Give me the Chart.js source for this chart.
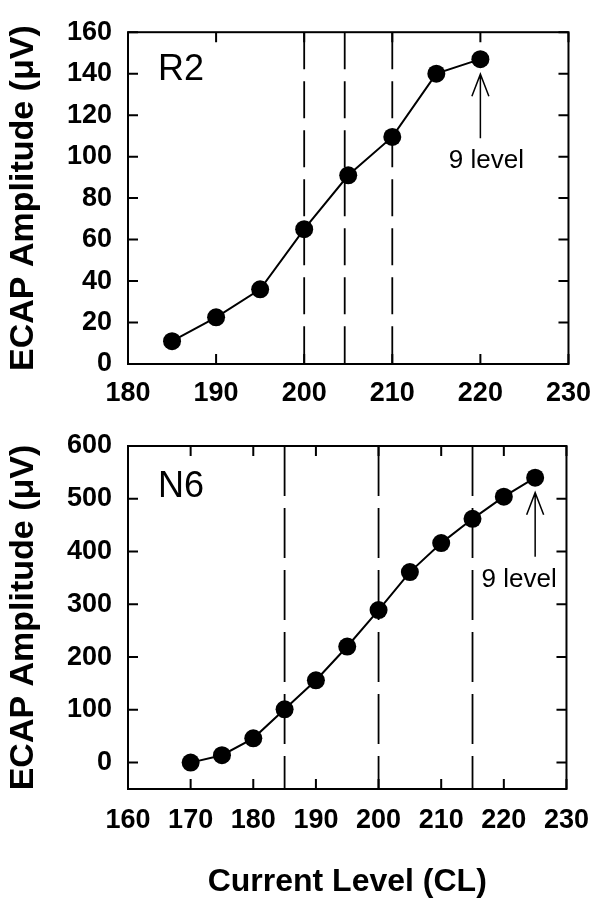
<!DOCTYPE html>
<html>
<head>
<meta charset="utf-8">
<script src="https://cdn.jsdelivr.net/npm/chart.js@4/dist/chart.umd.min.js"></script>
<style>
  body { margin: 0; background: #fff; }
  .wrap { position: relative; width: 604px; height: 907px; }
  canvas { position: absolute; left: 0; }
  #chartR2 { top: 0; }
  #chartN6 { top: 410px; }
</style>
</head>
<body>
<div class="wrap">
  <canvas id="chartR2" width="604" height="410"></canvas>
  <canvas id="chartN6" width="604" height="497"></canvas>
</div>
<script>
// R2 panel
const r2Levels = [185, 190, 195, 200, 205, 210, 215, 220];
const r2Amps = [11, 22.5, 36, 65, 91, 109.5, 140, 147];
const r2Dashes = [200, 204.6, 210];
const r2XTicks = [180, 190, 200, 210, 220, 230];
const r2YTicks = [0, 20, 40, 60, 80, 100, 120, 140, 160];

// N6 panel
const n6Levels = [170, 175, 180, 185, 190, 195, 200, 205, 210, 215, 220, 225];
const n6Amps = [0, 14, 46, 101, 156, 220, 289, 361, 416, 462, 504, 540];
const n6Dashes = [185, 200, 215];
const n6XTicks = [160, 170, 180, 190, 200, 210, 220, 230];
const n6YTicks = [0, 100, 200, 300, 400, 500, 600];

const FONT = "'Liberation Sans', Arial, sans-serif";
Chart.defaults.color = '#000';
Chart.defaults.font.family = FONT;

// box, inward ticks on all four sides, panel name and the "9 level" arrow
const frameTicks = {
  id: 'frameTicks',
  afterDraw(chart, args, opts) {
    const ctx = chart.ctx;
    const { left, right, top, bottom } = chart.chartArea;
    const xs = chart.scales.x, ys = chart.scales.y;
    ctx.save();
    ctx.strokeStyle = '#000';
    ctx.fillStyle = '#000';
    ctx.lineWidth = 2;
    ctx.strokeRect(left, top, right - left, bottom - top);
    ctx.beginPath();
    xs.ticks.forEach(t => {
      const px = xs.getPixelForValue(t.value);
      ctx.moveTo(px, bottom); ctx.lineTo(px, bottom - 10);
      ctx.moveTo(px, top); ctx.lineTo(px, top + 10);
    });
    ys.ticks.forEach(t => {
      const py = ys.getPixelForValue(t.value);
      ctx.moveTo(left, py); ctx.lineTo(left + 10, py);
      ctx.moveTo(right, py); ctx.lineTo(right - 10, py);
    });
    ctx.stroke();

    ctx.font = '36px ' + FONT;
    ctx.textAlign = 'center';
    ctx.textBaseline = 'middle';
    ctx.fillText(opts.name, left + 53, top + opts.nameDy);

    const meta = chart.getDatasetMeta(0);
    const pt = meta.data[meta.data.length - 1];
    const tipY = pt.y + 15;
    ctx.lineWidth = 1.5;
    ctx.beginPath();
    ctx.moveTo(pt.x, tipY); ctx.lineTo(pt.x, tipY + 64);
    ctx.moveTo(pt.x - 8.5, tipY + 22); ctx.lineTo(pt.x, tipY); ctx.lineTo(pt.x + 8.5, tipY + 22);
    ctx.stroke();
    ctx.font = '26px ' + FONT;
    ctx.fillText(opts.note, pt.x + opts.noteDx, pt.y + 102);
    ctx.restore();
  }
};

function makePanel(canvasId, cfg) {
  const dashSets = cfg.dashes.map(v => ({
    data: [{ x: v, y: cfg.yMax }, { x: v, y: cfg.yMin }],
    borderColor: '#000',
    borderWidth: 1.8,
    borderDash: cfg.dash,
    pointRadius: 0,
    fill: false
  }));

  new Chart(document.getElementById(canvasId), {
    type: 'line',
    data: {
      datasets: [{
        data: cfg.levels.map((x, i) => ({ x: x, y: cfg.amps[i] })),
        borderColor: '#000',
        borderWidth: 2,
        pointRadius: 9,
        pointBackgroundColor: '#000',
        pointBorderWidth: 0,
        tension: 0,
        fill: false
      }].concat(dashSets)
    },
    options: {
      responsive: false,
      animation: false,
      layout: { padding: cfg.padding },
      scales: {
        x: {
          type: 'linear',
          min: cfg.xTicks[0],
          max: cfg.xTicks[cfg.xTicks.length - 1],
          afterBuildTicks: s => { s.ticks = cfg.xTicks.map(v => ({ value: v })); },
          afterFit: s => { s.height = cfg.xHeight; },
          grid: { display: false, drawTicks: false },
          border: { display: false },
          ticks: { font: { size: 27, weight: 'bold' }, padding: cfg.xPad, maxRotation: 0, autoSkip: false },
          title: {
            display: cfg.xTitle !== '',
            text: cfg.xTitle,
            font: { size: 32, weight: 'bold' },
            padding: { top: 0, bottom: 6 }
          }
        },
        y: {
          min: cfg.yMin,
          max: cfg.yMax,
          afterBuildTicks: s => { s.ticks = cfg.yTicks.map(v => ({ value: v })); },
          afterFit: s => { s.width = 128; },
          grid: { display: false, drawTicks: false },
          border: { display: false },
          ticks: { font: { size: 27, weight: 'bold' }, padding: 16, autoSkip: false },
          title: {
            display: true,
            text: 'ECAP Amplitude (μV)',
            font: { size: 34, weight: 'bold' },
            padding: { top: 3, bottom: 0 }
          }
        }
      },
      plugins: {
        legend: { display: false },
        tooltip: { enabled: false },
        frameTicks: { name: cfg.name, nameDy: cfg.nameDy, note: '9 level', noteDx: cfg.noteDx }
      }
    },
    plugins: [frameTicks]
  });
}

makePanel('chartR2', {
  name: 'R2', nameDy: 38, noteDx: 6,
  levels: r2Levels, amps: r2Amps, dashes: r2Dashes, dash: [37, 12],
  xTicks: r2XTicks, yTicks: r2YTicks, yMin: 0, yMax: 160,
  padding: { left: 0, right: 31, top: 21, bottom: 0 },
  xHeight: 46, xPad: 13, xTitle: ''
});

makePanel('chartN6', {
  name: 'N6', nameDy: 41, noteDx: -16,
  levels: n6Levels, amps: n6Amps, dashes: n6Dashes, dash: [50, 12],
  xTicks: n6XTicks, yTicks: n6YTicks, yMin: -50, yMax: 600,
  padding: { left: 0, right: 32, top: 36, bottom: 0 },
  xHeight: 118, xPad: 15, xTitle: 'Current Level (CL)'
});
</script>
</body>
</html>
